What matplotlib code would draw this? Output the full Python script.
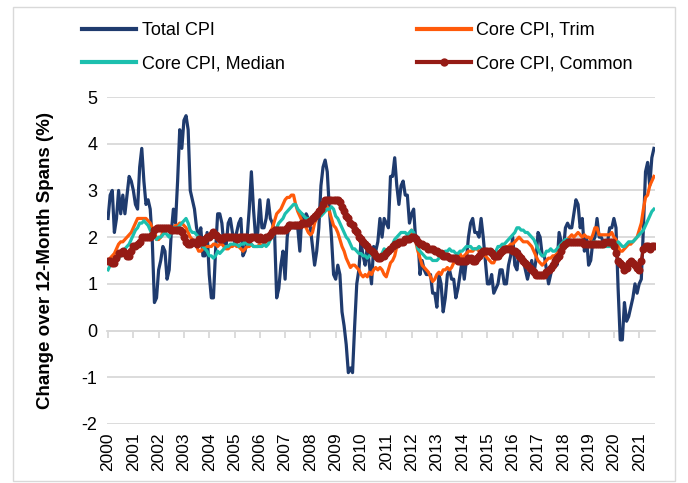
import numpy as np
import matplotlib
matplotlib.use("Agg")
import matplotlib.pyplot as plt
from matplotlib.lines import Line2D
from matplotlib.patches import Rectangle

plt.rcParams["font.family"] = ["Liberation Sans", "DejaVu Sans"]

# Variación interanual mensual, ene-2000 a ago-2021
total_cpi = [
    2.4, 2.9, 3.0, 2.1, 2.4, 3.0, 2.5, 2.9, 2.5, 2.9, 3.3, 3.2,   # 2000
    3.0, 2.7, 2.6, 3.5, 3.9, 3.2, 2.7, 2.8, 2.6, 1.9, 0.6, 0.7,   # 2001
    1.3, 1.5, 1.8, 1.7, 1.1, 1.3, 2.1, 2.6, 2.3, 3.2, 4.3, 3.9,   # 2002
    4.5, 4.6, 4.3, 3.0, 2.8, 2.6, 2.2, 2.0, 2.2, 1.6, 1.6, 2.1,   # 2003
    1.2, 0.7, 0.7, 1.7, 2.5, 2.5, 2.3, 1.8, 1.8, 2.3, 2.4, 2.1,   # 2004
    1.9, 2.1, 2.3, 2.4, 1.6, 1.7, 2.0, 2.6, 3.4, 2.6, 2.0, 2.1,   # 2005
    2.8, 2.2, 2.2, 2.4, 2.8, 2.4, 2.3, 2.1, 0.7, 0.9, 1.4, 1.7,   # 2006
    1.1, 2.0, 2.3, 2.2, 2.2, 2.2, 2.2, 1.7, 2.5, 2.4, 2.5, 2.4,   # 2007
    2.2, 1.8, 1.4, 1.7, 2.2, 3.1, 3.5, 3.65, 3.4, 2.6, 2.0, 1.2,  # 2008
    1.1, 1.4, 1.2, 0.4, 0.1, -0.3, -0.9, -0.8, -0.9, 0.1, 1.0, 1.3,  # 2009
    1.9, 1.6, 1.4, 1.8, 1.4, 1.0, 1.8, 1.7, 1.9, 2.4, 2.0, 2.4,   # 2010
    2.3, 2.2, 3.3, 3.3, 3.7, 3.1, 2.7, 3.1, 3.2, 2.9, 2.9, 2.3,   # 2011
    2.5, 2.6, 1.9, 2.0, 1.2, 1.5, 1.3, 1.2, 1.2, 1.2, 0.8, 0.8,   # 2012
    0.5, 1.2, 1.0, 0.4, 0.7, 1.2, 1.3, 1.1, 1.1, 0.7, 0.9, 1.2,   # 2013
    1.5, 1.1, 1.5, 2.0, 2.3, 2.4, 2.1, 2.1, 2.0, 2.4, 2.0, 1.5,   # 2014
    1.0, 1.0, 1.2, 0.8, 0.9, 1.0, 1.3, 1.3, 1.0, 1.0, 1.4, 1.6,   # 2015
    2.0, 1.4, 1.3, 1.7, 1.5, 1.5, 1.3, 1.1, 1.3, 1.5, 1.2, 1.5,   # 2016
    2.1, 2.0, 1.6, 1.6, 1.3, 1.0, 1.2, 1.4, 1.6, 1.4, 2.1, 1.9,   # 2017
    1.7, 2.2, 2.3, 2.2, 2.2, 2.5, 2.8, 2.7, 2.2, 2.4, 1.7, 2.0,   # 2018
    1.4, 1.5, 1.9, 2.0, 2.4, 2.0, 2.0, 1.9, 1.9, 1.9, 2.2, 2.2,   # 2019
    2.4, 2.2, 0.9, -0.2, -0.2, 0.6, 0.2, 0.3, 0.5, 0.7, 1.0, 0.8,  # 2020
    1.0, 1.1, 2.2, 3.4, 3.6, 3.1, 3.7, 3.9,                       # 2021
]

core_trim = [
    1.5, 1.55, 1.6, 1.65, 1.75, 1.85, 1.9, 1.9, 1.95, 2.0, 2.05, 2.1,
    2.2, 2.3, 2.4, 2.4, 2.4, 2.4, 2.4, 2.35, 2.3, 2.2, 2.15, 1.95,
    1.95, 2.0, 2.1, 2.15, 2.15, 2.15, 2.2, 2.2, 2.25, 2.25, 2.3, 2.3,
    2.25, 2.2, 2.1, 2.0, 1.95, 1.9, 1.8, 1.7, 1.7, 1.75, 1.8, 1.8,
    1.8, 1.8, 1.85, 1.85, 1.8, 1.85, 1.85, 1.8, 1.75, 1.75, 1.8, 1.8,
    1.85, 1.8, 1.8, 1.75, 1.7, 1.75, 1.8, 1.8, 1.85, 1.8, 1.8, 1.8,
    1.85, 1.8, 1.85, 1.9, 2.0, 2.1, 2.2, 2.35, 2.5, 2.55, 2.6, 2.7,
    2.8, 2.85, 2.85, 2.9, 2.9, 2.7, 2.55, 2.45, 2.35, 2.25, 2.2, 2.1,
    2.05, 2.1, 2.3, 2.4, 2.45, 2.5, 2.55, 2.6, 2.65, 2.55, 2.4, 2.25,
    2.2, 2.1, 1.95, 1.8, 1.7, 1.55, 1.45, 1.35, 1.4, 1.4, 1.35, 1.3,
    1.2, 1.15, 1.2, 1.15, 1.25, 1.2, 1.3, 1.35, 1.3, 1.35, 1.3, 1.2,
    1.15, 1.3, 1.45, 1.5, 1.6, 1.8, 1.85, 1.9, 1.9, 1.9, 1.95, 2.0,
    2.15, 2.05, 1.9, 1.7, 1.55, 1.4, 1.35, 1.3, 1.25, 1.15, 1.05, 1.1,
    1.2, 1.25, 1.2, 1.3, 1.3, 1.35, 1.3, 1.35, 1.45, 1.5, 1.6, 1.65,
    1.55, 1.6, 1.65, 1.7, 1.7, 1.7, 1.75, 1.75, 1.7, 1.7, 1.65, 1.6,
    1.55, 1.5, 1.45, 1.45, 1.55, 1.6, 1.65, 1.7, 1.75, 1.8, 1.8, 1.85,
    1.85, 1.9, 1.95, 2.0, 1.95, 1.9, 1.9, 1.9, 1.85, 1.8, 1.7, 1.6,
    1.5, 1.45, 1.4, 1.45, 1.5, 1.55, 1.55, 1.6, 1.6, 1.65, 1.7, 1.75,
    1.8, 1.9, 1.95, 2.0, 2.05, 2.0, 2.05, 2.1, 2.05, 2.0, 2.05, 2.0,
    2.0, 1.95, 2.05, 2.2, 2.2, 2.05, 2.05, 2.05, 2.05, 2.05, 2.05, 2.1,
    2.0, 1.95, 1.8, 1.7, 1.7, 1.75, 1.8, 1.85, 1.85, 1.9, 1.95, 2.0,
    2.15, 2.3, 2.6, 2.85, 2.9, 3.1, 3.2, 3.3,
]

core_median = [
    1.3, 1.4, 1.4, 1.4, 1.5, 1.55, 1.6, 1.7, 1.75, 1.8, 1.85, 1.95,
    2.05, 2.15, 2.2, 2.3, 2.3, 2.35, 2.3, 2.25, 2.15, 2.05, 2.0, 1.95,
    2.0, 2.0, 2.05, 2.1, 2.05, 2.0, 2.15, 2.2, 2.2, 2.2, 2.25, 2.3,
    2.35, 2.4, 2.3, 2.15, 2.1, 2.1, 2.05, 2.0, 1.9, 1.8, 1.75, 1.7,
    1.6, 1.6, 1.55, 1.6, 1.7, 1.65, 1.7, 1.75, 1.8, 1.8, 1.85, 1.85,
    1.85, 1.85, 1.8, 1.85, 1.85, 1.9, 1.85, 1.85, 1.85, 1.8, 1.8, 1.8,
    1.8, 1.8, 1.85, 1.8, 1.85, 1.95, 2.0, 2.1, 2.2, 2.3, 2.35, 2.4,
    2.5, 2.55, 2.6, 2.65, 2.7, 2.7, 2.6, 2.55, 2.5, 2.45, 2.4, 2.4,
    2.35, 2.35, 2.4, 2.4, 2.45, 2.45, 2.5, 2.55, 2.6, 2.6, 2.65, 2.6,
    2.45, 2.4, 2.3, 2.2, 2.1, 2.0, 1.95, 1.85, 1.75, 1.75, 1.7, 1.65,
    1.65, 1.6, 1.6, 1.55, 1.6, 1.65, 1.6, 1.55, 1.55, 1.6, 1.65, 1.75,
    1.7, 1.7, 1.75, 1.85, 1.95, 2.0, 2.05, 2.1, 2.1, 2.1, 2.05, 2.1,
    2.15, 2.1, 1.95, 1.75, 1.7, 1.65, 1.6, 1.55, 1.55, 1.55, 1.5, 1.5,
    1.5, 1.55, 1.6, 1.65, 1.7, 1.7, 1.75, 1.7, 1.7, 1.65, 1.65, 1.7,
    1.7, 1.75, 1.8, 1.8, 1.8, 1.75, 1.75, 1.75, 1.8, 1.75, 1.7, 1.7,
    1.7, 1.65, 1.6, 1.65, 1.7, 1.8, 1.8, 1.85, 1.85, 1.9, 1.95, 2.0,
    2.05, 2.1, 2.2, 2.2, 2.15, 2.15, 2.1, 2.1, 2.05, 2.0, 1.95, 1.85,
    1.75, 1.65, 1.6, 1.6, 1.7, 1.7, 1.75, 1.7, 1.7, 1.75, 1.8, 1.85,
    1.9, 1.95, 1.95, 1.9, 1.9, 1.85, 1.9, 1.9, 1.85, 1.85, 1.85, 1.85,
    1.85, 1.85, 1.9, 1.9, 1.85, 1.85, 1.8, 1.8, 1.8, 1.8, 1.8, 1.8,
    1.85, 1.85, 1.9, 1.85, 1.8, 1.8, 1.85, 1.9, 1.9, 1.9, 1.95, 2.0,
    2.05, 2.1, 2.15, 2.25, 2.35, 2.45, 2.55, 2.6,
]

core_common = [
    1.5, 1.5, 1.45, 1.45, 1.55, 1.65, 1.65, 1.7, 1.65, 1.6, 1.6, 1.7,
    1.8, 1.8, 1.85, 1.9, 2.0, 2.0, 2.0, 2.0, 2.0, 2.05, 2.15, 2.2,
    2.2, 2.2, 2.2, 2.2, 2.2, 2.2, 2.15, 2.15, 2.15, 2.15, 2.15, 2.1,
    2.0, 1.9, 1.85, 1.85, 1.9, 1.9, 1.85, 1.95, 1.9, 1.9, 1.95, 2.0,
    2.0, 2.05, 2.1, 2.05, 2.0, 1.95, 1.95, 2.0, 2.0, 2.0, 2.0, 2.0,
    2.0, 1.95, 2.0, 2.0, 2.0, 2.0, 2.0, 1.95, 2.0, 2.0, 2.0, 1.95,
    2.0, 1.95, 1.95, 2.0, 2.0, 2.05, 2.1, 2.15, 2.15, 2.15, 2.15, 2.15,
    2.15, 2.2, 2.25, 2.25, 2.25, 2.25, 2.25, 2.25, 2.3, 2.3, 2.3, 2.3,
    2.35, 2.4, 2.45, 2.5, 2.55, 2.6, 2.7, 2.8, 2.8, 2.8, 2.8, 2.8,
    2.8, 2.8, 2.75, 2.65, 2.55, 2.45, 2.4, 2.3, 2.25, 2.15, 2.1, 2.0,
    1.95, 1.9, 1.85, 1.8, 1.75, 1.7, 1.65, 1.6, 1.55, 1.55, 1.6, 1.6,
    1.65, 1.7, 1.75, 1.8, 1.85, 1.85, 1.9, 1.9, 1.9, 1.95, 1.95, 1.95,
    2.0, 2.0, 1.95, 1.9, 1.85, 1.85, 1.8, 1.8, 1.75, 1.75, 1.75, 1.7,
    1.7, 1.65, 1.65, 1.6, 1.6, 1.6, 1.55, 1.55, 1.55, 1.55, 1.5, 1.5,
    1.5, 1.5, 1.5, 1.55, 1.55, 1.5, 1.5, 1.55, 1.6, 1.65, 1.7, 1.7,
    1.7, 1.7, 1.65, 1.6, 1.6, 1.6, 1.65, 1.7, 1.75, 1.75, 1.75, 1.75,
    1.7, 1.7, 1.65, 1.6, 1.55, 1.5, 1.45, 1.4, 1.35, 1.3, 1.25, 1.2,
    1.2, 1.2, 1.2, 1.2, 1.25, 1.3, 1.35, 1.4, 1.5, 1.55, 1.6, 1.7,
    1.8, 1.85, 1.9, 1.9, 1.9, 1.9, 1.9, 1.9, 1.9, 1.9, 1.85, 1.85,
    1.85, 1.85, 1.85, 1.85, 1.85, 1.85, 1.85, 1.85, 1.9, 1.9, 1.9, 1.9,
    1.8, 1.65, 1.5, 1.45, 1.4, 1.3, 1.35, 1.45, 1.5, 1.45, 1.4, 1.35,
    1.3, 1.5, 1.75, 1.8, 1.8, 1.75, 1.8, 1.8,
]

year_labels = [str(y) for y in range(2000, 2022)]

n = len(total_cpi)
t = 2000 + np.arange(n) / 12.0

fig = plt.figure(figsize=(6.88, 4.83), dpi=100)
ax = fig.add_axes([107 / 688, 59 / 483, 548 / 688, 327 / 483])

ax.plot(t, total_cpi, color="#1F3B6E", lw=2.3, zorder=2)
ax.plot(t, core_trim, color="#FF5A0A", lw=2.3, zorder=3)
ax.plot(t, core_median, color="#1CBFAE", lw=2.3, zorder=4)
ax.plot(t, core_common, color="#951B15", lw=2.3, marker="o", ms=5.8,
        markeredgewidth=0, zorder=5)

pad = 0.5 / 12
ax.set_xlim(t[0] - pad, t[-1] + pad)
ax.set_ylim(-2, 5)
ax.set_yticks(range(-2, 6))
ax.set_yticklabels([str(v) for v in range(-2, 6)], fontsize=13)
ax.grid(axis="y", color="#D9D9D9", lw=1.3)
ax.set_axisbelow(True)
for s in ax.spines.values():
    s.set_visible(False)
ax.tick_params(axis="y", length=0, pad=7)

# etiquetas de año abajo, marcas de tick sobre el eje en 0
years = np.arange(2000, 2022)
ax.set_xticks(years)
ax.set_xticklabels(year_labels, rotation=90, fontsize=12.5)
ax.tick_params(axis="x", length=0, pad=6)

sec = ax.secondary_xaxis(2 / 7)
sec.set_xticks(years)
sec.set_xticklabels([])
sec.tick_params(axis="x", length=5, color="#D9D9D9", width=1.3)
sec.spines["bottom"].set_color("#D9D9D9")
sec.spines["bottom"].set_linewidth(1.3)

ax.set_ylabel("Change over 12-Month Spans (%)", fontsize=13.5,
              fontweight="bold", labelpad=20)

h_total = Line2D([], [], color="#1F3B6E", lw=3)
h_trim = Line2D([], [], color="#FF5A0A", lw=3)
h_median = Line2D([], [], color="#1CBFAE", lw=3)
h_common = Line2D([], [], color="#951B15", lw=3, marker="o", ms=6,
                  markeredgewidth=0)
fig.legend([h_total, h_median, h_trim, h_common],
           ["Total CPI", "Core CPI, Median", "Core CPI, Trim", "Core CPI, Common"],
           ncol=2, loc="center left", bbox_to_anchor=(66 / 688, 1 - 47 / 483),
           frameon=False, fontsize=13, handlelength=3.0, handletextpad=0.3,
           columnspacing=7.3, labelspacing=0.9)

fig.patches.append(Rectangle((13 / 688, 2 / 483), 662 / 688, 474 / 483,
                             transform=fig.transFigure, fill=False,
                             edgecolor="#D9D9D9", lw=1.0))

fig.savefig("out.png", dpi=100, facecolor="white")
